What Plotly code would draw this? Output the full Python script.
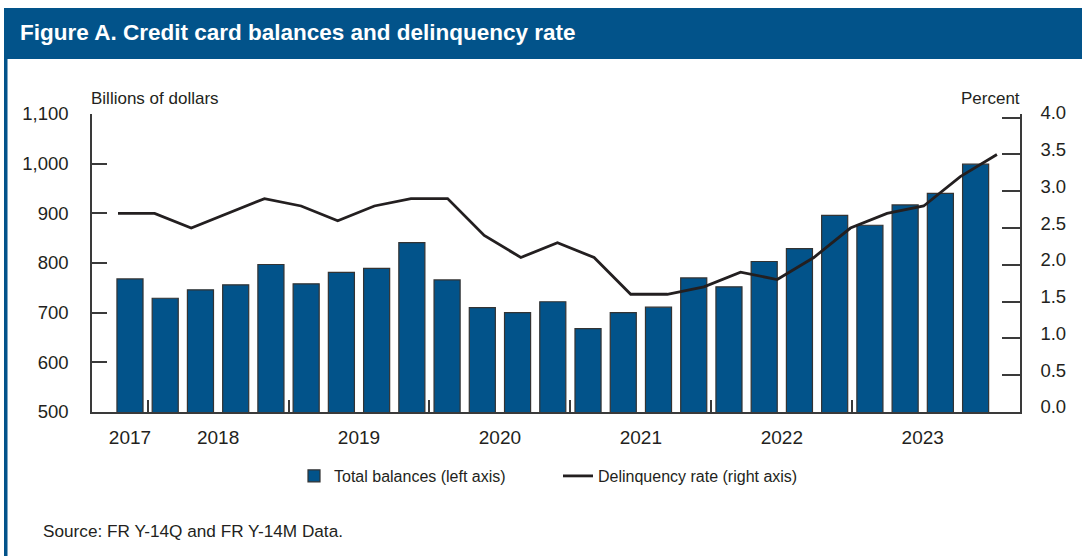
import plotly.graph_objects as go

# ---------------- data ----------------
quarters = ["2017Q4",
            "2018Q1", "2018Q2", "2018Q3", "2018Q4",
            "2019Q1", "2019Q2", "2019Q3", "2019Q4",
            "2020Q1", "2020Q2", "2020Q3", "2020Q4",
            "2021Q1", "2021Q2", "2021Q3", "2021Q4",
            "2022Q1", "2022Q2", "2022Q3", "2022Q4",
            "2023Q1", "2023Q2", "2023Q3", "2023Q4"]
balances = [768, 729, 746, 756, 797, 758, 781, 789, 841, 766, 710, 700, 722,
            668, 700, 711, 770, 752, 803, 829, 896, 876, 917, 940, 999]
delinquency = [2.7, 2.7, 2.5, 2.7, 2.9, 2.8, 2.6, 2.8, 2.9, 2.9, 2.4, 2.1, 2.3,
               2.1, 1.6, 1.6, 1.7, 1.9, 1.8, 2.1, 2.5, 2.7, 2.8, 3.2, 3.5]
left_ticks = [500, 600, 700, 800, 900, 1000, 1100]
right_ticks = [0.0, 0.5, 1.0, 1.5, 2.0, 2.5, 3.0, 3.5, 4.0]

idx = list(range(len(quarters)))
years = sorted(set(q[:4] for q in quarters))
year_centers = [sum(i for i, q in zip(idx, quarters) if q[:4] == y) /
                sum(1 for q in quarters if q[:4] == y) for y in years]
year_bounds = [min(i for i, q in zip(idx, quarters) if q[:4] == y) - 0.5 for y in years[1:]]

# ---------------- layout helpers ----------------
W, H = 1082, 556
L, R, T, B = 92, 1020, 114, 412
def px(x):
    return (x - L) / (R - L)
def py(y):
    return (B - y) / (B - T)

BLUE = "#02538a"
DARK = "#231f20"
AXIS = "#3a3a3a"
FONT = "Liberation Sans, Arial, sans-serif"

fig = go.Figure()
fig.add_trace(go.Bar(
    x=idx, y=balances, name="Total balances (left axis)",
    marker=dict(color=BLUE, line=dict(color="#333333", width=1.2)),
    width=0.74, hovertext=quarters,
    xaxis="x", yaxis="y"))
fig.add_trace(go.Scatter(
    x=idx, y=delinquency, name="Delinquency rate (right axis)",
    mode="lines", line=dict(color=DARK, width=2.8),
    hovertext=quarters, xaxis="x2", yaxis="y2"))

fig.update_layout(
    width=W, height=H,
    margin=dict(l=L, r=W - R, t=T, b=H - B, pad=0),
    paper_bgcolor="white", plot_bgcolor="white",
    font=dict(family=FONT, color=DARK, size=17),
    showlegend=True,
    legend=dict(orientation="h", x=px(294), y=py(459), xanchor="left", yanchor="top",
                font=dict(size=16, color=DARK), entrywidth=219, entrywidthmode="pixels",
                bgcolor="rgba(0,0,0,0)", traceorder="normal"),
    xaxis=dict(range=[-1.078, 25.26], showgrid=False, zeroline=False,
               showline=True, linecolor=AXIS, linewidth=1.5,
               tickmode="array", tickvals=year_centers, ticktext=years,
               ticks="", ticklabelstandoff=7,
               tickfont=dict(size=19, color=DARK),
               minor=dict(tickmode="array", tickvals=year_bounds, ticks="inside",
                          ticklen=12, tickcolor=AXIS, tickwidth=1.5)),
    xaxis2=dict(range=[-0.71, 24.63], overlaying="x", visible=False),
    yaxis=dict(range=[500, 1100], showgrid=False, zeroline=False,
               showline=True, linecolor=AXIS, linewidth=1.5,
               tickmode="array", tickvals=left_ticks, tickformat=",",
               ticks="inside", ticklen=15, tickcolor=AXIS, tickwidth=1.5,
               ticklabelstandoff=18, tickfont=dict(size=18.5, color=DARK)),
    yaxis2=dict(range=[0, 4.05], overlaying="y", side="right", showgrid=False,
                zeroline=False, showline=True, linecolor=AXIS, linewidth=1.5,
                tickmode="array", tickvals=right_ticks, tickformat=".1f",
                ticks="inside", ticklen=18, tickcolor=AXIS, tickwidth=1.5,
                ticklabelstandoff=15, ticklabelshift=-5,
                tickfont=dict(size=18.5, color=DARK)),
    bargap=0.26,
)

# header band and left border
fig.add_shape(type="rect", xref="paper", yref="paper",
              x0=px(4), x1=px(1090), y0=py(59), y1=py(8),
              fillcolor=BLUE, line=dict(width=0), layer="below")
fig.add_shape(type="rect", xref="paper", yref="paper",
              x0=px(4), x1=px(7.5), y0=py(560), y1=py(8),
              fillcolor=BLUE, line=dict(width=0), layer="below")

fig.add_annotation(text="<b>Figure A. Credit card balances and delinquency rate</b>",
                   xref="paper", yref="paper", x=px(18), y=py(33),
                   xanchor="left", yanchor="middle", showarrow=False,
                   font=dict(size=22.5, color="white", family=FONT))
fig.add_annotation(text="Billions of dollars", xref="paper", yref="paper",
                   x=px(89), y=py(99), xanchor="left", yanchor="middle",
                   showarrow=False, font=dict(size=17, color=DARK))
fig.add_annotation(text="Percent", xref="paper", yref="paper",
                   x=px(1022), y=py(99), xanchor="right", yanchor="middle",
                   showarrow=False, font=dict(size=17, color=DARK))
fig.add_annotation(text="Source: FR Y-14Q and FR Y-14M Data.", xref="paper", yref="paper",
                   x=px(41), y=py(531), xanchor="left", yanchor="middle",
                   showarrow=False, font=dict(size=17.2, color=DARK))

fig.write_html("out.html", config={"displayModeBar": False},
               post_script="document.body.style.margin='0px';")
